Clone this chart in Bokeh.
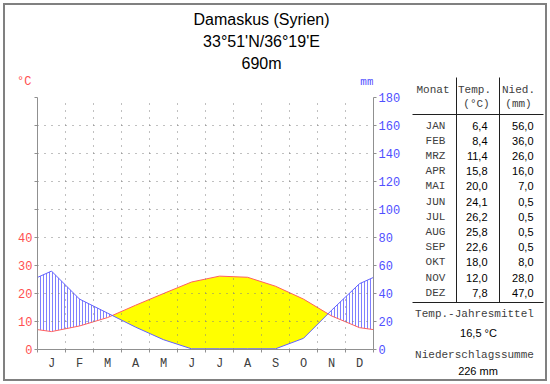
import numpy as np
from bokeh.plotting import figure
from bokeh.models import Range1d, LinearAxis, FixedTicker, Grid
from bokeh.layouts import column, row
from bokeh.embed import file_html
from bokeh.resources import INLINE
from bokeh.core.properties import value

# ---------------- data ----------------
title_lines = ["Damaskus (Syrien)", "33°51'N/36°19'E", "690m"]
month_letters = ["J", "F", "M", "A", "M", "J", "J", "A", "S", "O", "N", "D"]
month_names = ["JAN", "FEB", "MRZ", "APR", "MAI", "JUN", "JUL", "AUG", "SEP", "OKT", "NOV", "DEZ"]
temp = [6.4, 8.4, 11.4, 15.8, 20.0, 24.1, 26.2, 25.8, 22.6, 18.0, 12.0, 7.8]
precip = [56.0, 36.0, 26.0, 16.0, 7.0, 0.5, 0.5, 0.5, 0.5, 8.0, 28.0, 47.0]
temp_ticks = [0, 10, 20, 30, 40]
temp_minor = [50, 60, 70, 80, 90]
precip_ticks = [0, 20, 40, 60, 80, 100, 120, 140, 160, 180]

MONO = "Liberation Mono"
SANS = "Liberation Sans"
RED = "#ff5050"
BLUE = "#5050ff"
AX = "#909090"
TXT = "#404040"

# ---------------- curves ----------------
T = np.array(temp)
Pmm = np.array(precip)
P = Pmm / 2.0  # 10 degC <-> 20 mm
eT = (T[0] + T[-1]) / 2
eP = (P[0] + P[-1]) / 2
x0 = np.concatenate([[0.0], np.arange(12) + 0.5, [12.0]])
t0 = np.concatenate([[eT], T, [eT]])
p0 = np.concatenate([[eP], P, [eP]])
xs, ts, ps = [x0[0]], [t0[0]], [p0[0]]
for i in range(len(x0) - 1):
    d0 = t0[i] - p0[i]
    d1 = t0[i + 1] - p0[i + 1]
    if d0 * d1 < 0:
        f = d0 / (d0 - d1)
        xs.append(x0[i] + f * (x0[i + 1] - x0[i]))
        tc = t0[i] + f * (t0[i + 1] - t0[i])
        ts.append(tc)
        ps.append(tc)
    xs.append(x0[i + 1])
    ts.append(t0[i + 1])
    ps.append(p0[i + 1])
xs = np.array(xs); ts = np.array(ts); ps = np.array(ps)
top = np.maximum(ts, ps)

# ---------------- chart ----------------
p = figure(frame_width=336, frame_height=252, x_range=Range1d(0, 12), y_range=Range1d(0, 90),
           x_axis_type=None, y_axis_type=None, output_backend="svg", toolbar_location=None,
           min_border_left=32, min_border_right=32, min_border_top=9, min_border_bottom=30,
           outline_line_color=None, background_fill_color="white", border_fill_color="white")
p.extra_y_ranges = {"mm": Range1d(0, 180)}

p.varea(x=xs, y1=ps, y2=top, fill_color="#ffff00", fill_alpha=1.0)
p.varea(x=xs, y1=ts, y2=top, fill_color=None, fill_alpha=0,
        hatch_pattern="vertical_line", hatch_color="#8080ff", hatch_scale=3, hatch_weight=1)
p.line(x0, t0, line_color="#ff6060", line_width=1)
p.line(x0, np.concatenate([[eP * 2], Pmm, [eP * 2]]), y_range_name="mm", line_color="#6060ff", line_width=1)

xg = Grid(dimension=0, ticker=FixedTicker(ticks=list(range(1, 12))), grid_line_color="#808080",
          grid_line_dash="1 6", level="overlay")
yg = Grid(dimension=1, ticker=FixedTicker(ticks=[10, 20, 30, 40, 50, 60, 70, 80, 90]),
          grid_line_color="#808080", grid_line_dash="1 6", level="overlay")
p.add_layout(xg, "center")
p.add_layout(yg, "center")

xaxis = LinearAxis(ticker=FixedTicker(ticks=[i + 0.5 for i in range(12)], minor_ticks=list(range(13))),
                   major_label_overrides={i + 0.5: m for i, m in enumerate(month_letters)},
                   major_tick_out=0, major_tick_in=0, minor_tick_out=3, minor_tick_in=0,
                   axis_line_color=AX, minor_tick_line_color=AX,
                   major_label_text_font=MONO, major_label_text_font_size="12px",
                   major_label_text_color=TXT, major_label_standoff=4)
p.add_layout(xaxis, "below")

yaxis = LinearAxis(ticker=FixedTicker(ticks=temp_ticks, minor_ticks=temp_minor),
                   major_tick_out=3, major_tick_in=0, minor_tick_out=3, minor_tick_in=0,
                   axis_line_color=AX, major_tick_line_color=AX, minor_tick_line_color=AX,
                   major_label_text_font=MONO, major_label_text_font_size="12px",
                   major_label_text_color=RED, major_label_standoff=2)
p.add_layout(yaxis, "left")

raxis = LinearAxis(y_range_name="mm", ticker=FixedTicker(ticks=precip_ticks),
                   major_tick_out=3, major_tick_in=0, minor_tick_out=0, minor_tick_in=0,
                   axis_line_color=AX, major_tick_line_color=AX,
                   major_label_text_font=MONO, major_label_text_font_size="12px",
                   major_label_text_color=BLUE, major_label_standoff=2)
p.add_layout(raxis, "right")

# ---------------- title (left column top, frame aligned with chart frame) ----------------
tf = figure(frame_width=336, frame_height=83, x_range=Range1d(37, 373), y_range=Range1d(88, 5),
            x_axis_type=None, y_axis_type=None, output_backend="svg", toolbar_location=None,
            min_border_left=32, min_border_right=32, min_border_top=0, min_border_bottom=0,
            outline_line_color=None)
tf.text(x=[261, 261, 261], y=[18.5, 41, 63], text=title_lines, text_font=value(SANS),
        text_font_size=value("16px"), text_align="center", text_baseline="middle", text_color="black")
tf.text(x=[373], y=[81], text=["mm"], text_font=value(MONO), text_font_size=value("11px"),
        text_align="right", text_baseline="middle", text_color=BLUE)
unit_axis = LinearAxis(ticker=FixedTicker(ticks=[81]), major_label_overrides={81: "°C"},
                       axis_line_color=None, major_tick_line_color=None, minor_tick_line_color=None,
                       major_tick_out=0, major_tick_in=0, minor_tick_out=0, minor_tick_in=0,
                       major_label_text_color=RED, major_label_text_font=MONO,
                       major_label_text_font_size="12px", major_label_standoff=6)
tf.add_layout(unit_axis, "left")

# ---------------- table ----------------
tb = figure(frame_width=140, frame_height=374, x_range=Range1d(405, 545), y_range=Range1d(379, 5),
            x_axis_type=None, y_axis_type=None, output_backend="svg", toolbar_location=None,
            min_border=0, outline_line_color=None)
row_y = [125 + 15.2 * i for i in range(12)]
tb.text(x=[432.5, 474, 518, 476, 518], y=[89, 89, 89, 103, 103],
        text=["Monat", "Temp.", "Nied.", "(°C)", "(mm)"], text_font=value(MONO),
        text_font_size=value("11px"), text_align="center", text_baseline="middle", text_color=TXT)
tb.text(x=[435] * 12, y=row_y, text=month_names, text_font=value(MONO), text_font_size=value("11px"),
        text_align="center", text_baseline="middle", text_color=TXT)
tb.text(x=[487] * 12, y=row_y, text=[f"{v:.1f}".replace(".", ",") for v in temp],
        text_font=value(SANS), text_font_size=value("11px"), text_align="right",
        text_baseline="middle", text_color="black")
tb.text(x=[533] * 12, y=row_y, text=[f"{v:.1f}".replace(".", ",") for v in precip],
        text_font=value(SANS), text_font_size=value("11px"), text_align="right",
        text_baseline="middle", text_color="black")
tb.segment(x0=[456, 499, 412, 412], y0=[77, 77, 114, 302], x1=[456, 499, 543, 543], y1=[302, 302, 114, 302],
           line_color="#202020", line_width=1)
mean_t = f"{np.mean(T):.1f}".replace(".", ",") + " °C"
sum_p = f"{np.sum(Pmm):.0f} mm"
tb.text(x=[474, 474], y=[313, 354], text=["Temp.-Jahresmittel", "Niederschlagssumme"],
        text_font=value(MONO), text_font_size=value("11px"), text_align="center",
        text_baseline="middle", text_color=TXT)
tb.text(x=[478, 477.5], y=[332, 370], text=[mean_t, sum_p], text_font=value(SANS),
        text_font_size=value("11px"), text_align="center", text_baseline="middle", text_color="black")

layout = row(column(tf, p), tb, styles={"border": "2px solid #808080", "margin": "3px"})
open("out.html", "w").write(file_html(layout, INLINE))
